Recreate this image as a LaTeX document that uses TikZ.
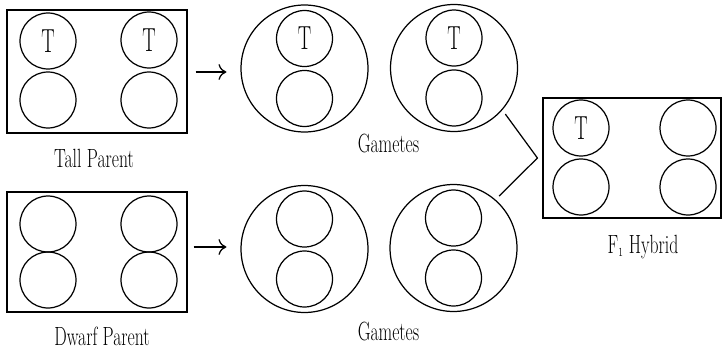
\documentclass[tikz,border=0pt]{standalone}
\usepackage{graphicx}
\usepackage{tikz}
\usetikzlibrary{arrows.meta}
\usetikzlibrary{calc}

\newcommand{\narrow}[1]{\scalebox{0.67}[1]{\fontsize{15}{15}\selectfont #1}}
\newcommand{\Tgene}{\scalebox{0.6}[1]{\fontsize{19}{19}\selectfont T}}

\begin{document}
\begin{tikzpicture}[x=0.02cm, y=-0.02cm, line width=0.7pt,
    >={To[length=4.5pt,width=9pt]},
    allele/.style={circle, draw, minimum size=1.12cm, inner sep=0pt},
    gamete/.style={circle, draw, minimum size=2.54cm, inner sep=0pt},
    plant/.style={draw, minimum width=3.6cm, minimum height=2.4cm, inner sep=0pt},
    lbl/.style={anchor=base, inner sep=0pt}]

    \useasboundingbox (0,0) rectangle (722,348);

    % parents
    \node[plant, minimum height=2.46cm] (tall) at (97,71.5) {};
    \node[allele] (tall-a) at (48,41) {\Tgene};
    \node[allele] (tall-b) at (149,40) {\Tgene};
    \node[allele] (tall-c) at (48,100) {};
    \node[allele] (tall-d) at (149,100) {};
    \node[lbl] (tall-lbl) at (94,167) {\narrow{Tall Parent}};

    \node[plant] (dwarf) at (97,252) {};
    \foreach \x in {48,149} {
        \foreach \y in {224,280} {
            \node[allele] (dwarf-\x-\y) at (\x,\y) {};
        }
    }
    \node[lbl] (dwarf-lbl) at (102,345) {\narrow{Dwarf Parent}};

    % gametes
    \node[gamete] (gt1) at (304.5,68.5) {};
    \node[gamete] (gt2) at (454,68) {};
    \node[gamete] (gb1) at (304.5,249) {};
    \node[gamete] (gb2) at (453.5,248) {};
    \foreach \g in {gt1,gt2} {
        \node[allele] (\g-a) at ([yshift=0.6cm]\g.center) {\Tgene};
        \node[allele] (\g-b) at ([yshift=-0.6cm]\g.center) {};
    }
    \foreach \g in {gb1,gb2} {
        \node[allele] (\g-a) at ([yshift=0.6cm]\g.center) {};
        \node[allele] (\g-b) at ([yshift=-0.6cm]\g.center) {};
    }
    \node[lbl] (gt-lbl) at (388.5,152) {\narrow{Gametes}};
    \node[lbl] (gb-lbl) at (388.5,340) {\narrow{Gametes}};

    \draw[->, shorten <=0.16cm, shorten >=0.28cm] ([yshift=-0.01cm]tall.east) -- ([yshift=-0.01cm]tall.east -| gt1.west);
    \draw[->, shorten <=0.12cm, shorten >=0.28cm] ([yshift=0.1cm]dwarf.east) -- ([yshift=0.1cm]dwarf.east -| gb1.west);

    % hybrid
    \node[plant, minimum width=3.56cm] (f1) at (632,158) {};
    \node[allele] (f1-a) at (581,128) {\Tgene};
    \node[allele] (f1-b) at (688,128) {};
    \node[allele] (f1-c) at (581,187) {};
    \node[allele] (f1-d) at (688,187) {};
    \node[lbl] (f1-lbl) at (643,253) {\narrow{F$_{\scriptscriptstyle 1}$\ Hybrid}};

    \coordinate (join) at ([xshift=-0.1cm]f1.west);
    \draw[shorten <=0.1cm, shorten >=0.1cm] (gt2.-41) -- (join) -- (gb2.49);
\end{tikzpicture}
\end{document}
